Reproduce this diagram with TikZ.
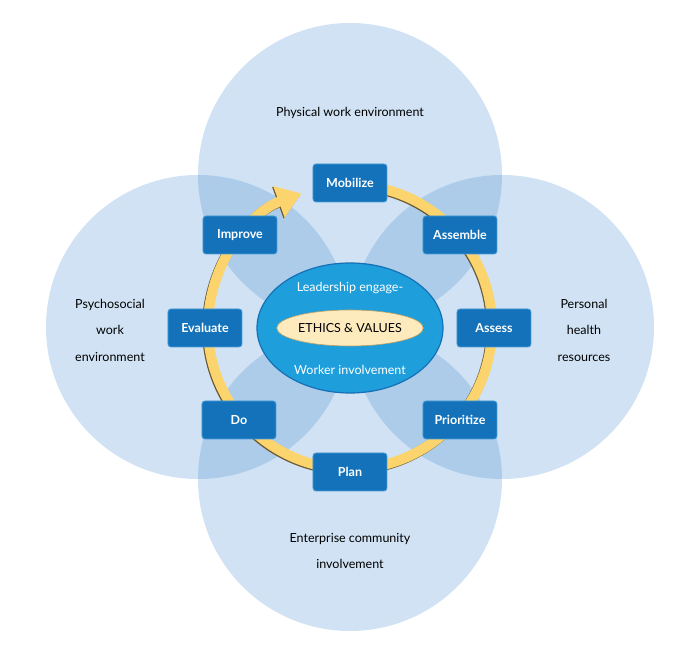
\documentclass[tikz,border=0pt]{standalone}
\usepackage{fontspec}
\setmainfont{Lato}
\usetikzlibrary{arrows.meta,shapes.geometric}
\definecolor{areablue}{RGB}{67,139,207}
\definecolor{stepblue}{RGB}{19,114,186}
\definecolor{stepedge}{RGB}{70,155,215}
\definecolor{coreblue}{RGB}{30,158,218}
\definecolor{coreedge}{RGB}{22,112,182}
\definecolor{ethicsfill}{RGB}{253,235,190}
\definecolor{ethicsedge}{RGB}{190,160,100}
\definecolor{ringyellow}{RGB}{252,212,110}
\definecolor{ringshade}{RGB}{105,88,50}

\begin{document}
\begin{tikzpicture}[x=1pt,y=1pt,
    area/.style={fill=areablue,fill opacity=0.25},
    arealabel/.style={align=center,font=\fontsize{12.5}{26.5}\selectfont},
    stepbox/.style={rectangle,rounded corners=3pt,fill=stepblue,draw=stepedge,line width=0.8pt,
      minimum width=74pt,minimum height=38pt,inner sep=0pt,text=white,font=\fontsize{12.5}{14}\selectfont\bfseries},
    ring/.style={line width=10pt,-{Triangle[length=24pt,width=32pt]}}]
  \useasboundingbox (-350,327) rectangle (347,-341);
  % circles
  \fill[area] (0,152) circle (152);
  \fill[area] (-152,0) circle (152);
  \fill[area] (152,0) circle (152);
  \fill[area] (0,-152) circle (152);
  % circle labels
  \node[arealabel] (physical) at (0,214) {Physical work environment};
  \node[arealabel] (psycho) at (-240,-3) {Psychosocial\\work\\environment};
  \node[arealabel] (personal) at (234,-3) {Personal\\health\\resources};
  \node[arealabel] (enterprise) at (0,-224) {Enterprise community\\involvement};
  % ring
  \draw[ring,draw=ringshade] (-1,-1) ++(85:142) arc[start angle=85,end angle=-250,radius=142];
  \draw[ring,draw=ringyellow] (85:142) arc[start angle=85,end angle=-250,radius=142];
  % center
  \node[ellipse,fill=coreblue,draw=coreedge,line width=1.2pt,minimum width=186pt,minimum height=130pt] (core) at (0,-1) {};
  \node[ellipse,fill=ethicsfill,draw=ethicsedge,line width=0.6pt,minimum width=124pt,minimum height=36pt,inner sep=0pt,
    font=\fontsize{12.5}{14}\selectfont] (ethics) at (0,-1) {ETHICS \& VALUES};
  \node[text=white,font=\fontsize{12.5}{14}\selectfont] (leader) at (0,39) {Leadership engage-};
  \node[text=white,font=\fontsize{12.5}{14}\selectfont] (worker) at (0,-43) {Worker involvement};
  % steps
  \node[stepbox] (mobilize) at (0,144) {Mobilize};
  \node[stepbox] (assemble) at (110,92) {Assemble};
  \node[stepbox] (assess) at (144,-1) {Assess};
  \node[stepbox] (prioritize) at (110,-93) {Prioritize};
  \node[stepbox] (plan) at (0,-145) {Plan};
  \node[stepbox] (do) at (-111,-93) {Do};
  \node[stepbox] (evaluate) at (-145,-1) {Evaluate};
  \node[stepbox] (improve) at (-110,92) {Improve};
\end{tikzpicture}
\end{document}
